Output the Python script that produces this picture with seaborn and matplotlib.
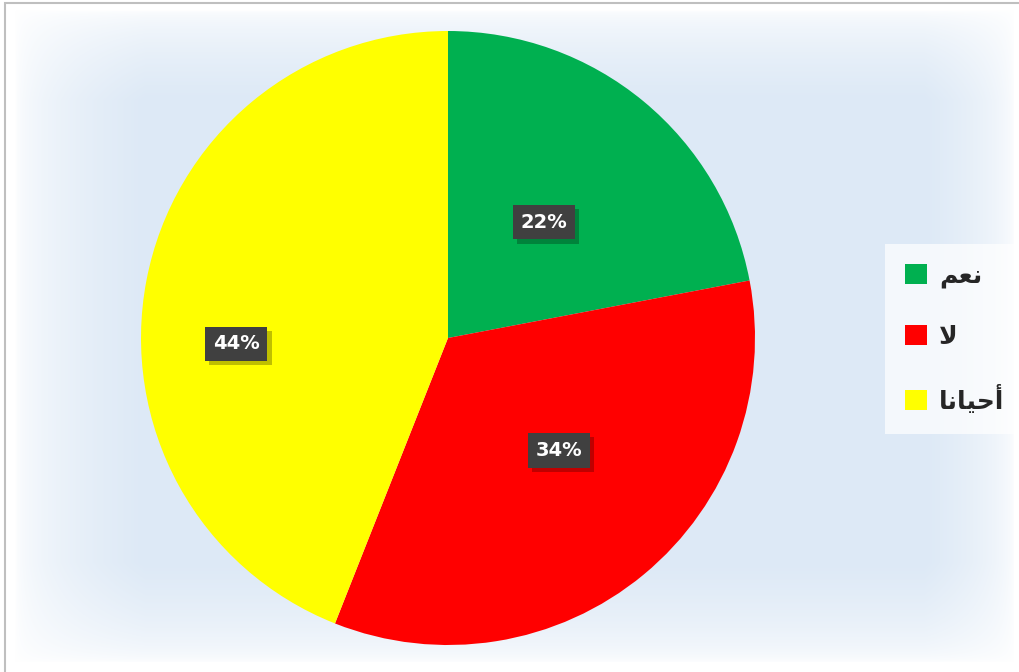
import numpy as np
import matplotlib
matplotlib.use("Agg")
import matplotlib.pyplot as plt
import matplotlib.patheffects as pe
from matplotlib.patches import Rectangle
import seaborn as sns

# ---- data ----
categories = ["نعم", "لا", "أحيانا"]
values = [22, 34, 44]
colors = ["#00B050", "#FF0000", "#FFFF00"]

# label placement style (radius fraction, angular shift in degrees) per wedge
label_radius = [0.49, 0.515, 0.69]
label_shift = [0.0, 5.0, 12.4]

# ---- minimal Arabic shaper (matplotlib has no complex text layout) ----
FORMS = {  # isolated, final, initial, medial
    "ن": ("\uFEE5", "\uFEE6", "\uFEE7", "\uFEE8"),
    "ع": ("\uFEC9", "\uFECA", "\uFECB", "\uFECC"),
    "م": ("\uFEE1", "\uFEE2", "\uFEE3", "\uFEE4"),
    "ل": ("\uFEDD", "\uFEDE", "\uFEDF", "\uFEE0"),
    "ح": ("\uFEA1", "\uFEA2", "\uFEA3", "\uFEA4"),
    "ي": ("\uFEF1", "\uFEF2", "\uFEF3", "\uFEF4"),
    "ا": ("\uFE8D", "\uFE8E", None, None),
    "أ": ("\uFE83", "\uFE84", None, None),
}
LAM_ALEF = ("\uFEFB", "\uFEFC")


def joins_next(ch):
    return FORMS.get(ch, (None,) * 4)[2] is not None


def shape(text):
    chars = list(text)
    out = []
    i = 0
    while i < len(chars):
        c = chars[i]
        prev_join = i > 0 and joins_next(chars[i - 1])
        if c == "ل" and i + 1 < len(chars) and chars[i + 1] == "ا":
            out.append(LAM_ALEF[1] if prev_join else LAM_ALEF[0])
            i += 2
            continue
        f = FORMS[c]
        nxt = i + 1 < len(chars) and chars[i + 1] in FORMS
        can_next = joins_next(c) and nxt
        if prev_join and can_next:
            g = f[3]
        elif prev_join:
            g = f[1]
        elif can_next:
            g = f[2]
        else:
            g = f[0]
        out.append(g)
        i += 1
    return "".join(reversed(out))


sns.set_theme(style="white")
plt.rcParams["font.family"] = ["DejaVu Sans"]

W, H = 1019, 672
fig = plt.figure(figsize=(W / 100, H / 100), dpi=100)
fig.patch.set_facecolor("white")

# background soft blue panel fading to white at edges
bg = fig.add_axes([0, 0, 1, 1], zorder=0)
yy, xx = np.mgrid[0:H, 0:W]


def edge_fade(d, w):
    return np.clip(d / w, 0, 1)


fade = (edge_fade(xx - 15, 130) * edge_fade(W - 5 - xx, 90)
        * edge_fade(yy - 10, 90) * edge_fade(H - 10 - yy, 100))
fade = np.sqrt(fade)
base = np.array([221, 233, 246]) / 255.0
img = 1 - fade[..., None] * (1 - base[None, None, :])
bg.imshow(img, extent=[0, 1, 0, 1], aspect="auto", interpolation="bilinear")
bg.set_axis_off()

# border
fig.patches.append(Rectangle((5 / W, -0.1), 1.2, 1 - 3 / H + 0.1,
                             transform=fig.transFigure, fill=False,
                             edgecolor="#BFBFBF", linewidth=1.5, zorder=1))

cx, cy, r = 448, 338, 307
ax = fig.add_axes([(cx - r) / W, (H - cy - r) / H, 2 * r / W, 2 * r / H], zorder=2)
ax.set_facecolor("none")
wedges, _, autotexts = ax.pie(
    values, colors=colors, startangle=90, counterclock=False,
    autopct=lambda p: f"{p:.0f}%", pctdistance=0.55,
    wedgeprops=dict(linewidth=0),
    textprops=dict(color="white", fontsize=14, fontweight="bold", family="DejaVu Sans"),
)
ax.set_xlim(-1, 1)
ax.set_ylim(-1, 1)
ax.set_aspect("auto")
ax.set_axis_off()

for w, t, rad, sh in zip(wedges, autotexts, label_radius, label_shift):
    mid = np.deg2rad((w.theta1 + w.theta2) / 2 + sh)
    t.set_position((rad * np.cos(mid), rad * np.sin(mid)))
    t.set_bbox(dict(boxstyle="square,pad=0.4", facecolor="#404040", edgecolor="none"))
    t.get_bbox_patch().set_path_effects(
        [pe.withSimplePatchShadow(offset=(3, -3), shadow_rgbFace="black", alpha=0.25)])

leg = fig.legend(
    wedges, [shape(c) for c in categories],
    loc="center", bbox_to_anchor=(955 / W, 1 - 339 / H),
    frameon=True, fancybox=False, framealpha=0.7, facecolor="white",
    edgecolor="none", handlelength=0.85, handleheight=0.85, handletextpad=0.5,
    labelspacing=1.45, borderpad=0.8,
    prop=dict(family="DejaVu Sans", weight="bold", size=18),
)
for h in leg.legend_handles:
    h.set_edgecolor("none")

fig.savefig("out.png", dpi=100)
